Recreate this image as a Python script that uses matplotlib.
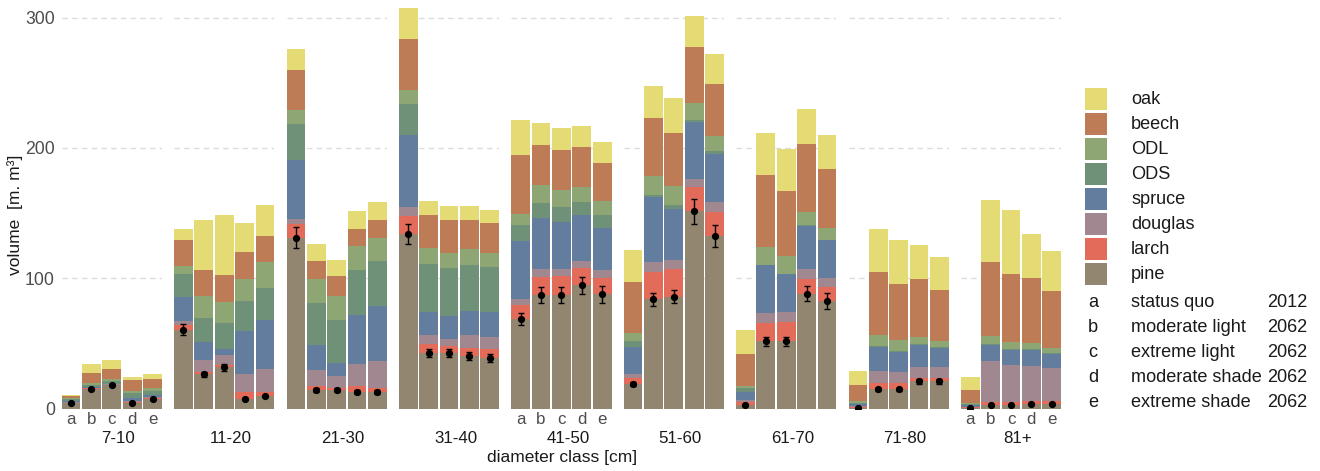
import matplotlib
matplotlib.use("Agg")
import matplotlib.pyplot as plt
import numpy as np
from matplotlib.patches import Rectangle

plt.rcParams['font.family'] = ['Liberation Sans', 'DejaVu Sans']

classes = ["7-10", "11-20", "21-30", "31-40", "41-50", "51-60", "61-70", "71-80", "81+"]
scenarios = ["a", "b", "c", "d", "e"]
species = ["pine", "larch", "douglas", "spruce", "ODS", "ODL", "beech", "oak"]
colors = {"pine": "#938670", "larch": "#E36B5A", "douglas": "#A08790",
          "spruce": "#627D9E", "ODS": "#6E9178", "ODL": "#8DA673",
          "beech": "#BD7B56", "oak": "#E5DB74"}

pine = [[4, 15.3, 18, 4, 7], [60.6, 26.3, 31.5, 7.2, 9.7], [131.2, 14, 14, 12.8, 12.8],
        [133.8, 42.7, 42.7, 40.2, 38.9], [68.5, 87, 87, 94.6, 87.5], [18.7, 83.9, 85.7, 151.4, 132.2],
        [3, 51.7, 51.7, 88.2, 82.4], [0.5, 14.6, 14.6, 21, 21], [0.3, 3, 3, 3.8, 3.8]]
larch = [[0.5, 0.3, 0.3, 1.3, 1], [3.3, 1.8, 1.8, 5.6, 3], [10.2, 3.3, 2, 4.6, 3.3],
         [14.3, 6.6, 5.4, 6.4, 6.6], [10.7, 13.6, 14.6, 13.6, 13], [4.9, 21, 21, 18.7, 18.9],
         [2, 14, 14.6, 11.3, 11], [0.8, 4.6, 4.6, 2.6, 2.6], [0.5, 2, 2, 1.8, 1.8]]
douglas = [[0.5, 0.3, 0.2, 0.5, 0.5], [3, 9, 7.7, 14, 17.4], [4.3, 12, 9, 17, 20.2],
           [6.6, 6.9, 5.6, 9.7, 9.5], [5.1, 6.1, 5.1, 5.1, 6.1], [2.8, 7.7, 7.2, 6.4, 7.2],
           [1.3, 7.9, 7.4, 7.2, 6.9], [0.5, 9.5, 9, 8.4, 8.4], [0.5, 31.2, 28.6, 27.1, 25.6]]
spruce = [[1, 0.5, 0.5, 2.5, 2], [19, 14, 5, 32.5, 38.1], [44.8, 19.7, 10.2, 37, 42.7],
          [55.5, 17.9, 17.1, 18.7, 18.9], [44, 39.6, 36.6, 35, 32], [20.5, 49.4, 39.6, 43.5, 37.3],
          [6.4, 36.3, 29.4, 33.2, 28.9], [1.5, 18.7, 15.3, 17.1, 14.6], [1.5, 12.8, 11.5, 12.5, 11]]
ODS = [[1.5, 2, 2, 3.5, 3], [17, 18.4, 19.7, 23.3, 24.6], [27.6, 32.2, 33, 35, 34],
       [23.3, 37, 37, 35.5, 34.8], [12.3, 11.5, 11, 10, 9.7], [5.1, 1.8, 2.6, 1.8, 2],
       [3, 0.5, 0.5, 1, 0.5], [1, 0.5, 0.5, 0.5, 0.5], [0.5, 0.5, 0.5, 0.5, 0.5]]
ODL = [[0.5, 1.5, 1.5, 2, 2], [6.4, 16.6, 16, 17, 19.7], [10.7, 18.4, 18.2, 18.2, 18.2],
       [10.7, 12.3, 11.8, 11.8, 11], [8.4, 13.6, 13.3, 11.8, 11.3], [6.1, 14.6, 14.8, 12.3, 11.8],
       [1.5, 13.6, 13.8, 10.2, 8.7], [1.3, 8.7, 8.2, 5.4, 4.6], [1, 5.9, 5.4, 4.6, 3.8]]
beech = [[1.5, 7.5, 7.5, 8, 7], [20, 20.5, 20.5, 20.5, 20.2], [31.2, 13.6, 15.1, 13.3, 13.6],
         [39.6, 24.8, 24.8, 22.3, 22.8], [45.3, 30.7, 30.7, 30.7, 29.2], [39.1, 44.2, 40.9, 43.5, 39.4],
         [24.8, 55, 49.4, 52.2, 45.3], [12.8, 48.1, 43.7, 44.5, 39.6], [9.7, 57, 52.2, 49.6, 43.5]]
oak = [[1, 6.5, 7.5, 2.5, 4], [8.5, 38.4, 46, 22.2, 23.3], [15.6, 12.8, 12.3, 14, 13.6],
       [23.8, 11, 10.7, 10.7, 10.2], [27.4, 17.4, 17.1, 16.4, 15.9], [24.8, 25.1, 26.9, 23.5, 23.5],
       [18.4, 32.5, 32, 26.9, 26.3], [10.5, 32.7, 33.2, 25.8, 24.8], [10.2, 47.8, 49.4, 34.3, 31.2]]
pine_err = [[0.5, 0.8, 0.8, 0.5, 0.5], [4.5, 2, 2.5, 1, 1], [8, 1.5, 1.5, 1.5, 1.5],
            [7.5, 3, 3, 3, 3], [4.5, 6, 6, 6.5, 6.5], [1.5, 5, 5, 9.5, 8.5],
            [0.5, 3.5, 3.5, 6, 6], [0.3, 1, 1, 2, 2], [0.3, 0.5, 0.5, 0.5, 0.5]]

data = {"pine": pine, "larch": larch, "douglas": douglas, "spruce": spruce,
        "ODS": ODS, "ODL": ODL, "beech": beech, "oak": oak}

legend_species = ["oak", "beech", "ODL", "ODS", "spruce", "douglas", "larch", "pine"]
legend_codes = ["a", "b", "c", "d", "e"]
legend_desc = ["status quo", "moderate light", "extreme light", "moderate shade", "extreme shade"]
legend_year = ["2012", "2062", "2062", "2062", "2062"]

W, H = 1320, 471
fig = plt.figure(figsize=(W / 100, H / 100), dpi=100)

def fx(x):
    return x / W

def fy(y):
    return 1 - y / H

panel_left0 = 61.7
panel_w = 100.3
panel_pitch = 112.4
y_bottom = 408.5
y_top = 2.0
ymax = 312
bw = 0.92
label_col_tick = "#4d4d4d"
label_col = "#1a1a1a"

x = np.arange(len(scenarios))
for i, cls in enumerate(classes):
    left = panel_left0 + i * panel_pitch
    ax = fig.add_axes([fx(left), fy(y_bottom), panel_w / W, (y_bottom - y_top) / H])
    ax.set_xlim(-bw / 2, len(scenarios) - 1 + bw / 2)
    ax.set_ylim(0, ymax)
    for s in ["top", "right", "left", "bottom"]:
        ax.spines[s].set_visible(False)
    ax.set_facecolor("white")
    for g in [0, 100, 200, 300]:
        ax.axhline(g, color="#dcdcdc", lw=1.0, ls=(0, (4, 3)), zorder=0)
    bottom = np.zeros(len(scenarios))
    for sp in species:
        vals = np.array(data[sp][i], dtype=float)
        ax.bar(x, vals, width=bw, bottom=bottom, color=colors[sp], linewidth=0, zorder=2)
        bottom += vals
    pv = np.array(pine[i])
    ax.errorbar(x, pv, yerr=pine_err[i], fmt="o", color="black", ms=4.2,
                elinewidth=1.0, capsize=2.2, capthick=1.0, zorder=5)
    ax.tick_params(axis="both", length=0)
    if i == 0:
        ax.set_yticks([0, 100, 200, 300])
        ax.set_yticklabels(["0", "100", "200", "300"], fontsize=12.7, color=label_col_tick)
        ax.tick_params(axis="y", pad=5)
    else:
        ax.set_yticks([])
    if i in (0, 4, 8):
        ax.set_xticks(x)
        ax.set_xticklabels(scenarios, fontsize=12.2, color=label_col_tick)
        ax.tick_params(axis="x", pad=2.5)
    else:
        ax.set_xticks([])
    fig.text(fx(left + panel_w / 2 + 6.5), fy(438.5), cls, ha="center", va="center",
             fontsize=12.2, color=label_col)

fig.text(fx(562), fy(457.5), "diameter class [cm]", ha="center", va="center",
         fontsize=12.5, color=label_col)
fig.text(fx(15), fy(215), "volume  [m. m\u00b3]", ha="center", va="center",
         rotation=90, fontsize=12.5, color=label_col)

# legend
for k, sp in enumerate(legend_species):
    top = 88.3 + k * 25.0
    fig.add_artist(Rectangle((fx(1085), fy(top + 21.5)), 22 / W, 21.5 / H,
                             transform=fig.transFigure, facecolor=colors[sp],
                             edgecolor="none"))
    fig.text(fx(1131), fy(top + 10.75), sp, ha="left", va="center",
             fontsize=13.1, color=label_col)
for k in range(len(legend_codes)):
    yc = 302.7 + k * 25.0
    fig.text(fx(1088), fy(yc), legend_codes[k], ha="left", va="center", fontsize=13.1, color=label_col)
    fig.text(fx(1131), fy(yc), legend_desc[k], ha="left", va="center", fontsize=13.1, color=label_col)
    fig.text(fx(1267), fy(yc), legend_year[k], ha="left", va="center", fontsize=13.1, color=label_col)

fig.savefig("out.png", dpi=100, facecolor="white")
